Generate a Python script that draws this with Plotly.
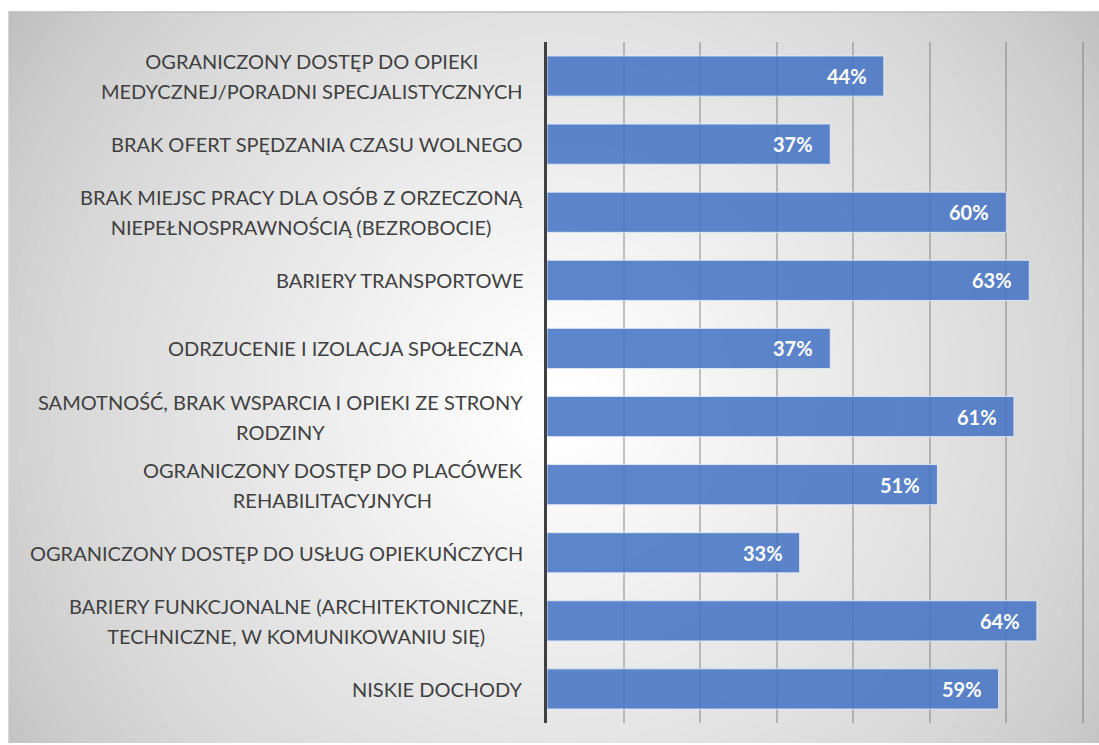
import plotly.graph_objects as go

# dane z wykresu
kategorie = [
    "OGRANICZONY DOSTĘP DO OPIEKI<br>MEDYCZNEJ/PORADNI SPECJALISTYCZNYCH",
    "BRAK OFERT SPĘDZANIA CZASU WOLNEGO",
    "BRAK MIEJSC PRACY DLA OSÓB Z ORZECZONĄ<br>NIEPEŁNOSPRAWNOŚCIĄ (BEZROBOCIE)",
    "BARIERY TRANSPORTOWE",
    "ODRZUCENIE I IZOLACJA SPOŁECZNA",
    "SAMOTNOŚĆ, BRAK WSPARCIA I OPIEKI ZE STRONY<br>RODZINY",
    "OGRANICZONY DOSTĘP DO PLACÓWEK<br>REHABILITACYJNYCH",
    "OGRANICZONY DOSTĘP DO USŁUG OPIEKUŃCZYCH",
    "BARIERY FUNKCJONALNE (ARCHITEKTONICZNE,<br>TECHNICZNE, W KOMUNIKOWANIU SIĘ)",
    "NISKIE DOCHODY",
]
wartosci = [0.44, 0.37, 0.60, 0.63, 0.37, 0.61, 0.51, 0.33, 0.64, 0.59]
etykiety = ["44%", "37%", "60%", "63%", "37%", "61%", "51%", "33%", "64%", "59%"]

W, H = 1099, 745
XMAX = 0.7015
L, R, T, B = 547, 547 + XMAX * 766, 42, 723
FONT = "Lato"


def px_x(p):
    return (p - L) / (R - L)


def px_y(p):
    return (B - p) / (B - T)


fig = go.Figure()
fig.add_trace(go.Bar(
    x=wartosci,
    y=kategorie,
    orientation="h",
    marker=dict(color="rgba(68,114,196,0.86)",
                line=dict(color="rgba(225,233,247,0.9)", width=1)),
    hoverinfo="x+y",
))

# tlo: szary panel z jasnym gradientem radialnym
shapes = [dict(type="rect", xref="paper", yref="paper",
               x0=px_x(8), x1=px_x(1110), y0=px_y(743), y1=px_y(12),
               fillcolor="#b8b8b8", line=dict(width=0), layer="below")]
cx, cy, rmax, n = 560, 400, 720, 60
prev = 0.0
for k in range(n):
    r = rmax * (n - k - 0.5) / n
    a_tot = 1 - (r / rmax) ** 2
    a = 1 - (1 - a_tot) / (1 - prev)
    prev = a_tot
    shapes.append(dict(type="circle", xref="paper", yref="paper",
                       x0=px_x(cx - r), x1=px_x(cx + r),
                       y0=px_y(cy + r), y1=px_y(cy - r),
                       fillcolor="white", opacity=min(a, 1.0),
                       line=dict(width=0), layer="below"))
shapes.append(dict(type="line", xref="paper", yref="paper",
                   x0=px_x(8), x1=px_x(1110), y0=px_y(12), y1=px_y(12),
                   line=dict(color="#bdbdbd", width=1.5), layer="below"))

annotations = []
for kat in kategorie:
    linie = kat.split("<br>")
    tekst = "<br>".join('<span style="font-size:20px">%s</span>' % s for s in linie)
    annotations.append(dict(
        x=px_x(525), xref="paper", y=kat, yref="y",
        text=tekst, showarrow=False, xanchor="right", yanchor="middle",
        align="center", font=dict(family=FONT, size=23, color="#404040"),
    ))
for kat, v, e in zip(kategorie, wartosci, etykiety):
    annotations.append(dict(
        x=v, y=kat, xref="x", yref="y", text="<b>%s</b>" % e,
        showarrow=False, xanchor="right", yanchor="middle", xshift=-15,
        font=dict(family=FONT, size=20, color="white"),
    ))

fig.update_layout(
    width=W, height=H,
    margin=dict(l=L, r=W - R, t=T, b=H - B, pad=0),
    paper_bgcolor="white",
    plot_bgcolor="rgba(0,0,0,0)",
    bargap=0.41,
    showlegend=False,
    shapes=shapes,
    annotations=annotations,
    xaxis=dict(range=[0, XMAX], dtick=0.1, showgrid=True,
               gridcolor="rgba(110,110,110,0.4)", gridwidth=1.5,
               showticklabels=False, zeroline=False, showline=False),
    yaxis=dict(autorange="reversed", showticklabels=False, showgrid=False,
               showline=True, linecolor="#404040", linewidth=3,
               ticks="", zeroline=False),
)

# bez marginesu strony, zeby wykres zaczynal sie w rogu okna
fig.write_html("out.html", config={"displayModeBar": False},
               post_script="document.body.style.margin='0';")
